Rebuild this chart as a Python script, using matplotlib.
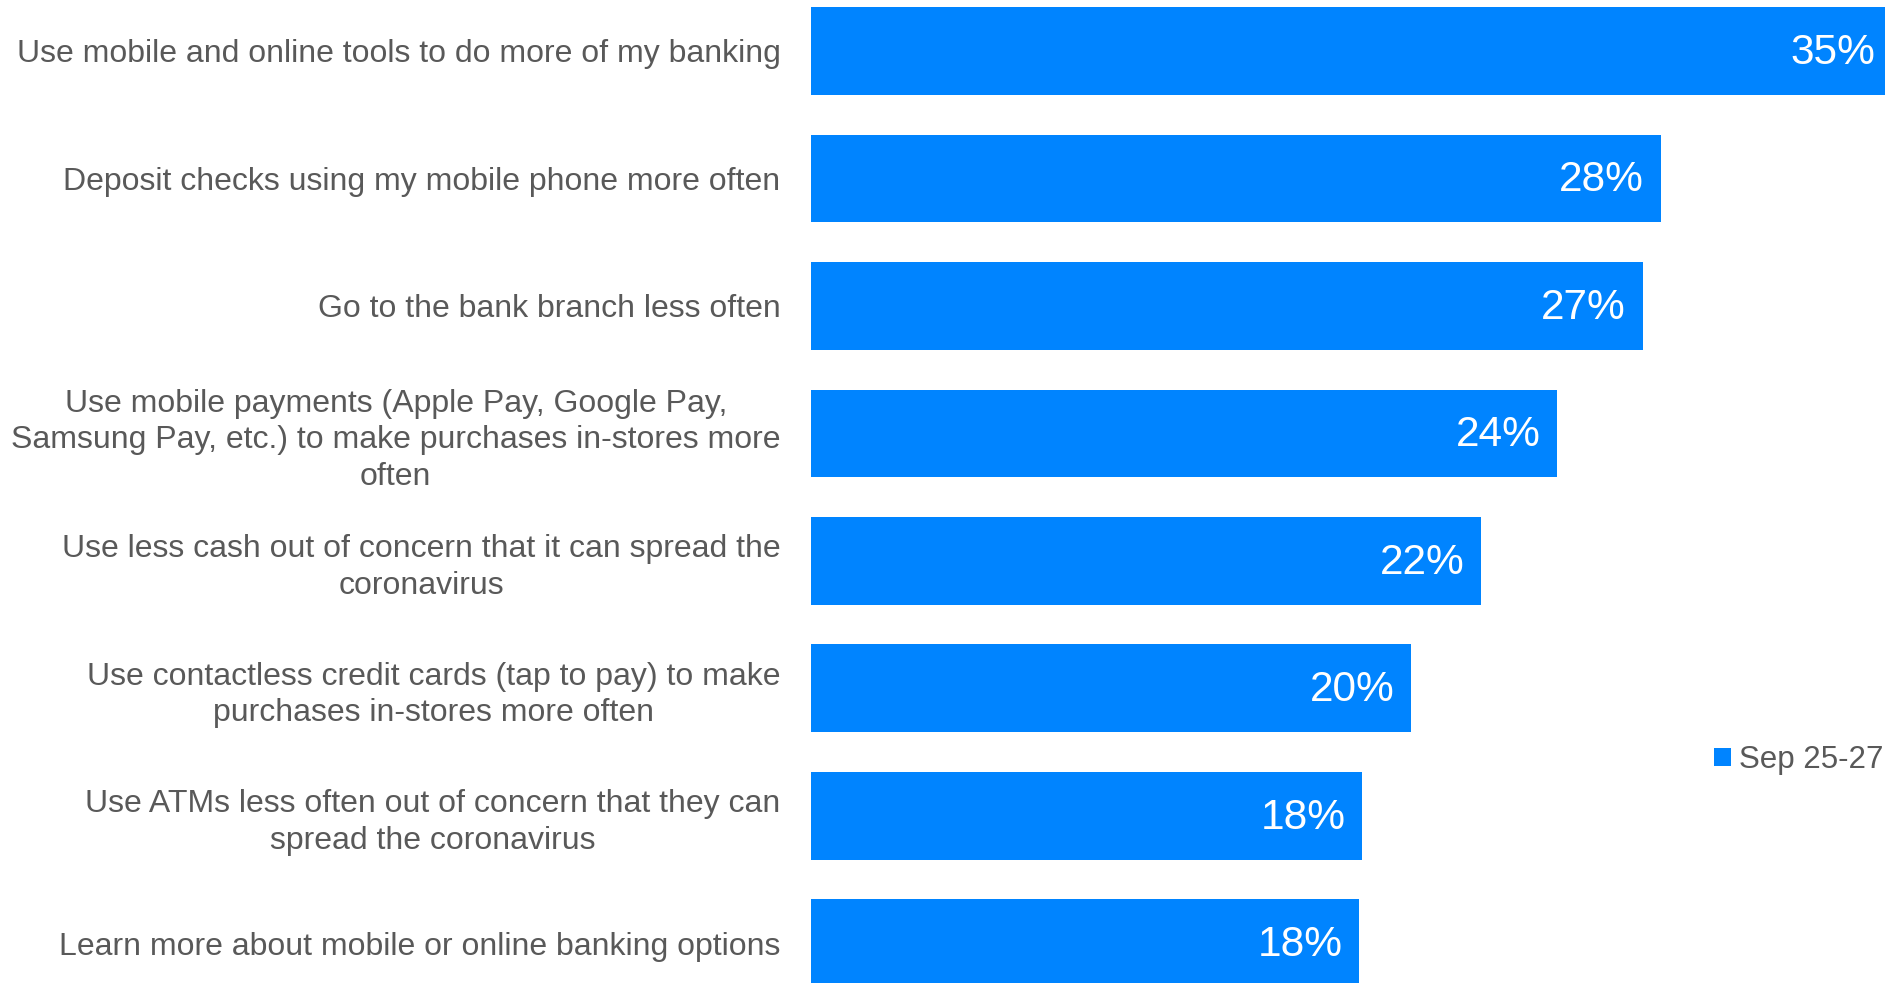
import matplotlib.pyplot as plt
import numpy as np

plt.rcParams['font.family'] = ['Liberation Sans', 'DejaVu Sans']

# 数据
categories = [
    "Use mobile and online tools to do more of my banking",
    "Deposit checks using my mobile phone more often",
    "Go to the bank branch less often",
    "Use mobile payments (Apple Pay, Google Pay,\nSamsung Pay, etc.) to make purchases in-stores more\noften",
    "Use less cash out of concern that it can spread the\ncoronavirus",
    "Use contactless credit cards (tap to pay) to make\npurchases in-stores more often",
    "Use ATMs less often out of concern that they can\nspread the coronavirus",
    "Learn more about mobile or online banking options",
]
values = [35.5, 27.9, 27.3, 24.5, 22.0, 19.7, 18.1, 18.0]
value_labels = ["35%", "28%", "27%", "24%", "22%", "20%", "18%", "18%"]
series_name = "Sep 25-27"

bar_color = '#0084FF'
text_color = '#595959'

fig = plt.figure(figsize=(18.85, 9.83), dpi=100)
ax = fig.add_axes([811 / 1885, 0, 1 - 811 / 1885, 1])

y = np.arange(len(categories))
bars = ax.barh(y, values, height=0.69, color=bar_color, label=series_name)

# 柱内右侧的百分比标签
for rect, lab in zip(bars, value_labels):
    ax.annotate(lab, xy=(rect.get_width(), rect.get_y() + rect.get_height() / 2),
                xytext=(-17, -2), textcoords='offset pixels',
                ha='right', va='center', color='white', fontsize=30.5,
                annotation_clip=False)

ax.set_xlim(0, 35.25)
ax.set_ylim(7.31, -0.40)
ax.set_yticks(y)
ax.set_yticklabels(categories, fontsize=23, color=text_color)
for t in ax.get_yticklabels():
    t.set_multialignment('center')
    t.set_linespacing(1.28)
ax.tick_params(axis='y', length=0, pad=22)
ax.set_xticks([])
for s in ax.spines.values():
    s.set_visible(False)

fig.legend(loc='center left', bbox_to_anchor=(1714 / 1885, 1 - 760 / 983),
           frameon=False, fontsize=22.5, handlelength=0.55, handleheight=0.55,
           handletextpad=0.25, borderpad=0, borderaxespad=0, labelcolor=text_color)

fig.savefig('out.png', dpi=100)
